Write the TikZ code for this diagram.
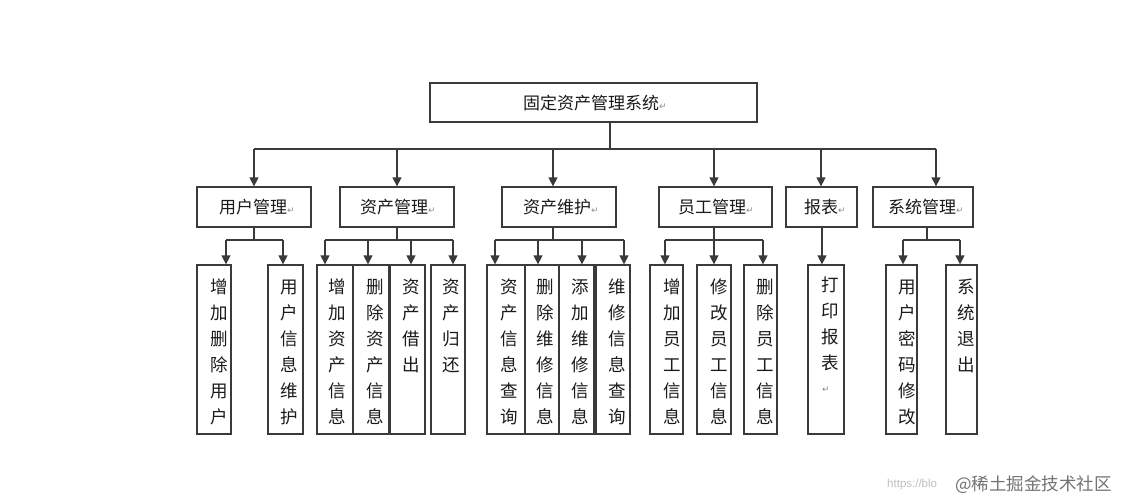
\documentclass[tikz,border=0pt]{standalone}
\usepackage{fontspec}
\setmainfont{Noto Sans CJK SC}
\newfontfamily\dejavu{DejaVu Sans}
\newfontfamily\libsans{Liberation Sans}
\usetikzlibrary{arrows.meta,fit}
\definecolor{ln}{HTML}{3A3A3A}
\definecolor{tx}{HTML}{1A1A1A}
\newcommand\pmk{{\dejavu\fontsize{9}{9}\selectfont\textcolor{black!45}{↵}}}
\newcommand\vcol[4]{%
  \foreach \c [count=\i from 0] in {#4}
    \node[vch] (#1-\i) at (#2, #3+26*\i) {\c};}
\tikzset{
  box/.style={draw=ln, line width=1.3pt, inner sep=0pt, fill=none},
  lbl/.style={inner sep=0pt, anchor=west, text=tx, font=\fontsize{17}{17}\selectfont},
  vch/.style={inner sep=0pt, text=tx, font=\fontsize{17.5}{17.5}\selectfont},
  con/.style={draw=ln, line width=1.3pt},
  arr/.style={con, -{Triangle[width=9pt,length=9pt]}}
}
\begin{document}
\begin{tikzpicture}[x=1pt,y=-1pt]
\useasboundingbox[fill=white] (0,0) rectangle (1121,501);

% top
\node[box, fit={(430,83)(757,122)}] (top) {};
\node[lbl] (topt) at (523,103) {固定资产管理系统\pmk};

% level 2 boxes
\node[box, fit={(197,187)(311,227)}] (um) {};
\node[lbl] (umt) at (219,207) {用户管理\pmk};
\node[box, fit={(340,187)(454,227)}] (am) {};
\node[lbl] (amt) at (360,207) {资产管理\pmk};
\node[box, fit={(502,187)(616,227)}] (aw) {};
\node[lbl] (awt) at (523,207) {资产维护\pmk};
\node[box, fit={(659,187)(772,227)}] (ym) {};
\node[lbl] (ymt) at (678,207) {员工管理\pmk};
\node[box, fit={(786,187)(857,227)}] (bb) {};
\node[lbl] (bbt) at (804,207) {报表\pmk};
\node[box, fit={(873,187)(973,227)}] (xm) {};
\node[lbl] (xmt) at (888,207) {系统管理\pmk};

% level 1 connectors
\coordinate (b0) at (610,149);
\coordinate (p1) at (254,149);
\coordinate (p2) at (397,149);
\coordinate (p3) at (553,149);
\coordinate (p4) at (714,149);
\coordinate (p5) at (821,149);
\coordinate (p6) at (936,149);
\draw[con] (top.south -| b0) -- (b0);
\draw[con] (p1) -- (p6);
\draw[arr] (p1) -- (p1 |- um.north);
\draw[arr] (p2) -- (p2 |- am.north);
\draw[arr] (p3) -- (p3 |- aw.north);
\draw[arr] (p4) -- (p4 |- ym.north);
\draw[arr] (p5) -- (p5 |- bb.north);
\draw[arr] (p6) -- (p6 |- xm.north);

% level 3 boxes
\node[box, fit={(197,265)(231,434)}] (u1) {};
\node[box, fit={(268,265)(303,434)}] (u2) {};
\node[box, fit={(317,265)(353,434)}] (a1) {};
\node[box, fit={(353,265)(389,434)}] (a2) {};
\node[box, fit={(390,265)(425,434)}] (a3) {};
\node[box, fit={(431,265)(465,434)}] (a4) {};
\node[box, fit={(487,265)(525,434)}] (w1) {};
\node[box, fit={(525,265)(559,434)}] (w2) {};
\node[box, fit={(559,265)(594,434)}] (w3) {};
\node[box, fit={(596,265)(630,434)}] (w4) {};
\node[box, fit={(650,265)(683,434)}] (y1) {};
\node[box, fit={(697,265)(731,434)}] (y2) {};
\node[box, fit={(744,265)(777,434)}] (y3) {};
\node[box, fit={(808,265)(844,434)}] (b1) {};
\node[box, fit={(886,265)(917,434)}] (x1) {};
\node[box, fit={(946,265)(977,434)}] (x2) {};

% vertical texts
\vcol{u1t}{219}{287}{增,加,删,除,用,户}
\vcol{u2t}{289}{287}{用,户,信,息,维,护}
\vcol{a1t}{337}{287}{增,加,资,产,信,息}
\vcol{a2t}{375}{287}{删,除,资,产,信,息}
\vcol{a3t}{411}{287}{资,产,借,出}
\vcol{a4t}{451}{287}{资,产,归,还}
\vcol{w1t}{509}{287}{资,产,信,息,查,询}
\vcol{w2t}{545}{287}{删,除,维,修,信,息}
\vcol{w3t}{580}{287}{添,加,维,修,信,息}
\vcol{w4t}{617}{287}{维,修,信,息,查,询}
\vcol{y1t}{672}{287}{增,加,员,工,信,息}
\vcol{y2t}{719}{287}{修,改,员,工,信,息}
\vcol{y3t}{765}{287}{删,除,员,工,信,息}
\vcol{b1t}{830}{285}{打,印,报,表}
\node[inner sep=0pt] (b1m) at (826,390) {\pmk};
\vcol{x1t}{907}{287}{用,户,密,码,修,改}
\vcol{x2t}{966}{287}{系,统,退,出}

% level 2 -> 3 connectors
\coordinate (d1) at (254,240);
\coordinate (d2) at (397,240);
\coordinate (d3) at (553,240);
\coordinate (d4) at (714,240);
\coordinate (d5) at (822,240);
\coordinate (d6) at (927,240);
\draw[con] (um.south -| d1) -- (d1);
\draw[con] (am.south -| d2) -- (d2);
\draw[con] (aw.south -| d3) -- (d3);
\draw[con] (ym.south -| d4) -- (d4);
\draw[con] (xm.south -| d6) -- (d6);
\draw[arr] (bb.south -| d5) -- (d5 |- b1.north);

\coordinate (cu1) at (226,240); \coordinate (cu2) at (283,240);
\draw[con] (cu1) -- (cu2);
\draw[arr] (cu1) -- (cu1 |- u1.north);
\draw[arr] (cu2) -- (cu2 |- u2.north);

\coordinate (ca1) at (325,240); \coordinate (ca2) at (368,240);
\coordinate (ca3) at (411,240); \coordinate (ca4) at (453,240);
\draw[con] (ca1) -- (ca4);
\draw[arr] (ca1) -- (ca1 |- a1.north);
\draw[arr] (ca2) -- (ca2 |- a2.north);
\draw[arr] (ca3) -- (ca3 |- a3.north);
\draw[arr] (ca4) -- (ca4 |- a4.north);

\coordinate (cw1) at (495,240); \coordinate (cw2) at (538,240);
\coordinate (cw3) at (582,240); \coordinate (cw4) at (624,240);
\draw[con] (cw1) -- (cw4);
\draw[arr] (cw1) -- (cw1 |- w1.north);
\draw[arr] (cw2) -- (cw2 |- w2.north);
\draw[arr] (cw3) -- (cw3 |- w3.north);
\draw[arr] (cw4) -- (cw4 |- w4.north);

\coordinate (cy1) at (665,240); \coordinate (cy2) at (714,240);
\coordinate (cy3) at (763,240);
\draw[con] (cy1) -- (cy3);
\draw[arr] (cy1) -- (cy1 |- y1.north);
\draw[arr] (cy2) -- (cy2 |- y2.north);
\draw[arr] (cy3) -- (cy3 |- y3.north);

\coordinate (cx1) at (903,240); \coordinate (cx2) at (960,240);
\draw[con] (cx1) -- (cx2);
\draw[arr] (cx1) -- (cx1 |- x1.north);
\draw[arr] (cx2) -- (cx2 |- x2.north);

% watermark
\node[inner sep=0pt, anchor=west, text=black!25, font=\libsans\fontsize{11.5}{11.5}\selectfont] (wm1) at (887,485) {https://blo};
\node[inner sep=0pt, anchor=west, text=black!55, font=\fontsize{17.5}{17.5}\selectfont] (wm2) at (955,485) {@稀土掘金技术社区};
\end{tikzpicture}
\end{document}
